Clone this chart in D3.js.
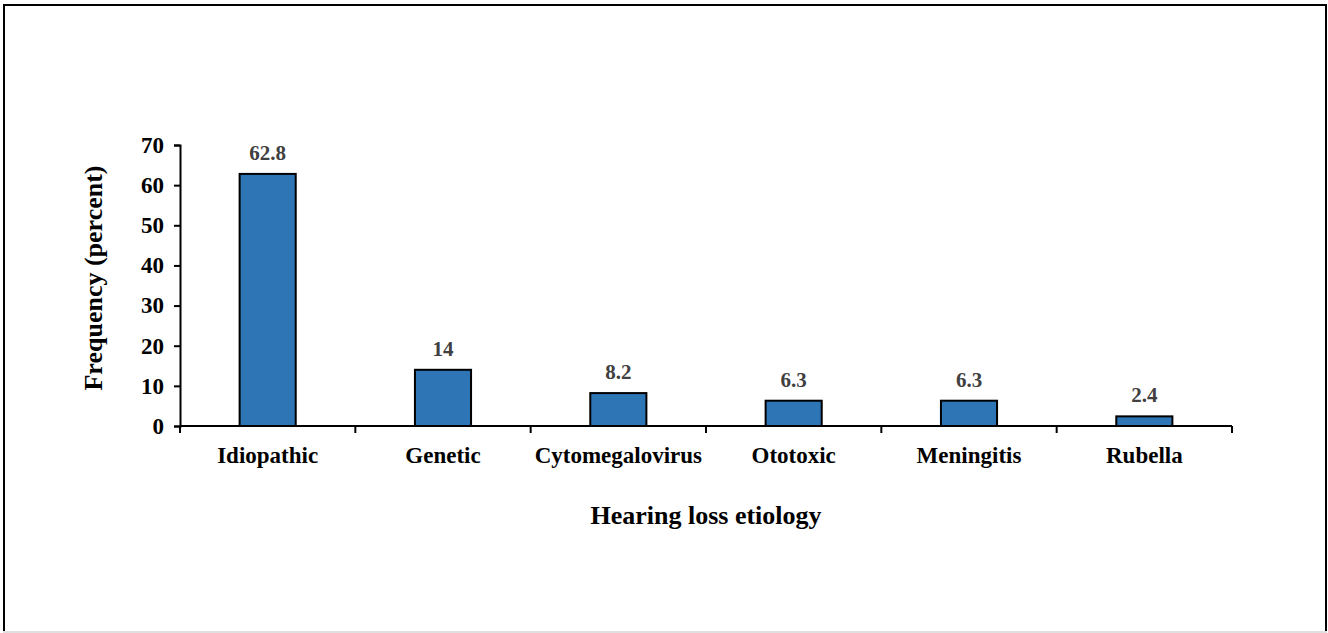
<!DOCTYPE html>
<html>
<head>
<meta charset="utf-8">
<script src="https://cdn.jsdelivr.net/npm/d3@7"></script>
<style>
  body { margin: 0; background: #fff; }
  text { font-family: "Liberation Serif", "Times New Roman", serif; font-weight: bold; }
</style>
</head>
<body>
<div id="chart"></div>
<script>
// data
var categories = ["Idiopathic", "Genetic", "Cytomegalovirus", "Ototoxic", "Meningitis", "Rubella"];
var values = [62.8, 14, 8.2, 6.3, 6.3, 2.4];
var yTicks = [0, 10, 20, 30, 40, 50, 60, 70];

var width = 1328, height = 633;
var mLeft = 180, mRight = 1232, mTop = 145, mBottom = 426;

var svg = d3.select("#chart").append("svg")
    .attr("width", width)
    .attr("height", height);

// outer frame
svg.append("rect")
    .attr("x", 4).attr("y", 5)
    .attr("width", 1322).attr("height", 627)
    .attr("fill", "none")
    .attr("stroke", "#000")
    .attr("stroke-width", 2);
svg.append("line")
    .attr("x1", 3).attr("x2", 1327)
    .attr("y1", 632).attr("y2", 632)
    .attr("stroke", "#e0e0e0").attr("stroke-width", 2);

var x = d3.scaleBand().domain(categories).range([mLeft, mRight]).padding(0);
var y = d3.scaleLinear().domain([0, 70]).range([mBottom, mTop]);
var barW = x.bandwidth() * 0.32;

// bars
svg.selectAll(".bar")
  .data(values)
  .enter().append("rect")
    .attr("class", "bar")
    .attr("x", function(d, i) { return x(categories[i]) + x.bandwidth() / 2 - barW / 2; })
    .attr("y", function(d) { return y(d); })
    .attr("width", barW)
    .attr("height", function(d) { return y(0) - y(d); })
    .attr("fill", "#2E75B6")
    .attr("stroke", "#000")
    .attr("stroke-width", 2);

// value labels
svg.selectAll(".val")
  .data(values)
  .enter().append("text")
    .attr("class", "val")
    .attr("x", function(d, i) { return x(categories[i]) + x.bandwidth() / 2; })
    .attr("y", function(d) { return y(d) - 14; })
    .attr("text-anchor", "middle")
    .attr("fill", "#404040")
    .attr("font-size", "21px")
    .text(function(d) { return d; });

// y axis
var yAxis = svg.append("g")
    .attr("transform", "translate(" + mLeft + ",0)")
    .call(d3.axisLeft(y).tickValues(yTicks).tickSize(6).tickPadding(10));
yAxis.select(".domain").attr("stroke", "#000").attr("stroke-width", 2);
yAxis.selectAll(".tick line").attr("stroke-width", 2);
yAxis.selectAll(".tick text")
    .attr("font-size", "23px")
    .attr("font-family", "Liberation Serif, serif")
    .attr("font-weight", "bold")
    .attr("fill", "#000");

// x axis: ticks on band boundaries
var xAxis = svg.append("g")
    .attr("transform", "translate(0," + mBottom + ")");
xAxis.append("line")
    .attr("x1", mLeft).attr("x2", mRight)
    .attr("stroke", "#000").attr("stroke-width", 2);
var bounds = categories.map(function(c) { return x(c); }).concat([mRight]);
xAxis.selectAll(".xt")
  .data(bounds)
  .enter().append("line")
    .attr("x1", function(d) { return d; })
    .attr("x2", function(d) { return d; })
    .attr("y1", 0).attr("y2", 7)
    .attr("stroke", "#000").attr("stroke-width", 2);
xAxis.selectAll(".xl")
  .data(categories)
  .enter().append("text")
    .attr("x", function(d) { return x(d) + x.bandwidth() / 2; })
    .attr("y", 37)
    .attr("text-anchor", "middle")
    .attr("font-size", "23px")
    .attr("fill", "#000")
    .text(function(d) { return d; });

// axis titles
svg.append("text")
    .attr("x", 706)
    .attr("y", 524)
    .attr("text-anchor", "middle")
    .attr("font-size", "26px")
    .text("Hearing loss etiology");

svg.append("text")
    .attr("transform", "translate(102," + 278 + ") rotate(-90)")
    .attr("text-anchor", "middle")
    .attr("font-size", "26px")
    .text("Frequency (percent)");
</script>
</body>
</html>
